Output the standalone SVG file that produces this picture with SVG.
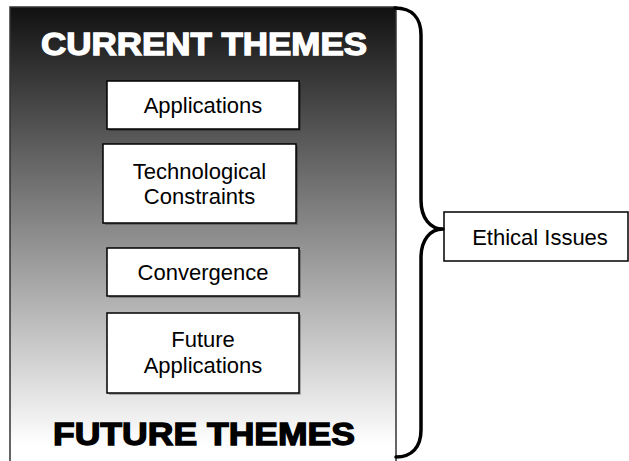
<svg xmlns="http://www.w3.org/2000/svg" width="629" height="461" viewBox="0 0 629 461">
  <defs>
    <linearGradient id="bg" x1="0" y1="7" x2="0" y2="445" gradientUnits="userSpaceOnUse">
      <stop offset="0" stop-color="#111111"/>
      <stop offset="1" stop-color="#ffffff"/>
    </linearGradient>
  </defs>
  <style>
    .box { fill: #ffffff; stroke: #000000; stroke-width: 1.5; }
    .shadow { fill: #000000; opacity: 0.25; }
    .lbl { font-family: "Liberation Sans", Arial, sans-serif; font-size: 22px; fill: #000000; text-anchor: middle; }
    .title { font-family: "Liberation Sans", Arial, sans-serif; font-weight: 700; text-anchor: middle; }
    .brace { fill: none; stroke: #000000; stroke-width: 3.5; stroke-linecap: round; stroke-linejoin: round; }
  </style>
  <rect width="629" height="461" fill="#ffffff"/>

  <g id="themes-panel">
    <rect x="10" y="7" width="386" height="470" fill="url(#bg)" stroke="#333333" stroke-width="1.5"/>
    <text class="title" x="204" y="55" font-size="32" fill="#ffffff" stroke="#ffffff" stroke-width="1.3" textLength="326" lengthAdjust="spacingAndGlyphs">CURRENT THEMES</text>
    <text class="title" x="204" y="445" font-size="31" fill="#000000" stroke="#000000" stroke-width="1.3" textLength="302" lengthAdjust="spacingAndGlyphs">FUTURE THEMES</text>
  </g>

  <g id="applications">
    <rect class="shadow" x="109" y="83" width="192" height="48"/>
    <rect class="box" x="107" y="81" width="192" height="48"/>
    <text class="lbl" x="203" y="113">Applications</text>
  </g>

  <g id="technological-constraints">
    <rect class="shadow" x="105" y="146" width="193" height="79"/>
    <rect class="box" x="103" y="144" width="193" height="79"/>
    <text class="lbl" x="199.5" y="179">Technological</text>
    <text class="lbl" x="199.5" y="204">Constraints</text>
  </g>

  <g id="convergence">
    <rect class="shadow" x="109" y="250" width="192" height="48"/>
    <rect class="box" x="107" y="248" width="192" height="48"/>
    <text class="lbl" x="203" y="280">Convergence</text>
  </g>

  <g id="future-applications">
    <rect class="shadow" x="109" y="315" width="192" height="80"/>
    <rect class="box" x="107" y="313" width="192" height="80"/>
    <text class="lbl" x="203" y="347">Future</text>
    <text class="lbl" x="203" y="373">Applications</text>
  </g>

  <g id="ethical-issues">
    <rect class="box" x="444" y="212" width="184" height="49"/>
    <text class="lbl" x="540" y="245">Ethical Issues</text>
  </g>

  <g id="connectors">
    <path class="brace" d="M395,8 C412,8 421,18 421,35 L421,200 C421,218 430,229 443,229 C430,229 421,240 421,258 L421,430 C421,447 412,457 396,457"/>
  </g>
</svg>
